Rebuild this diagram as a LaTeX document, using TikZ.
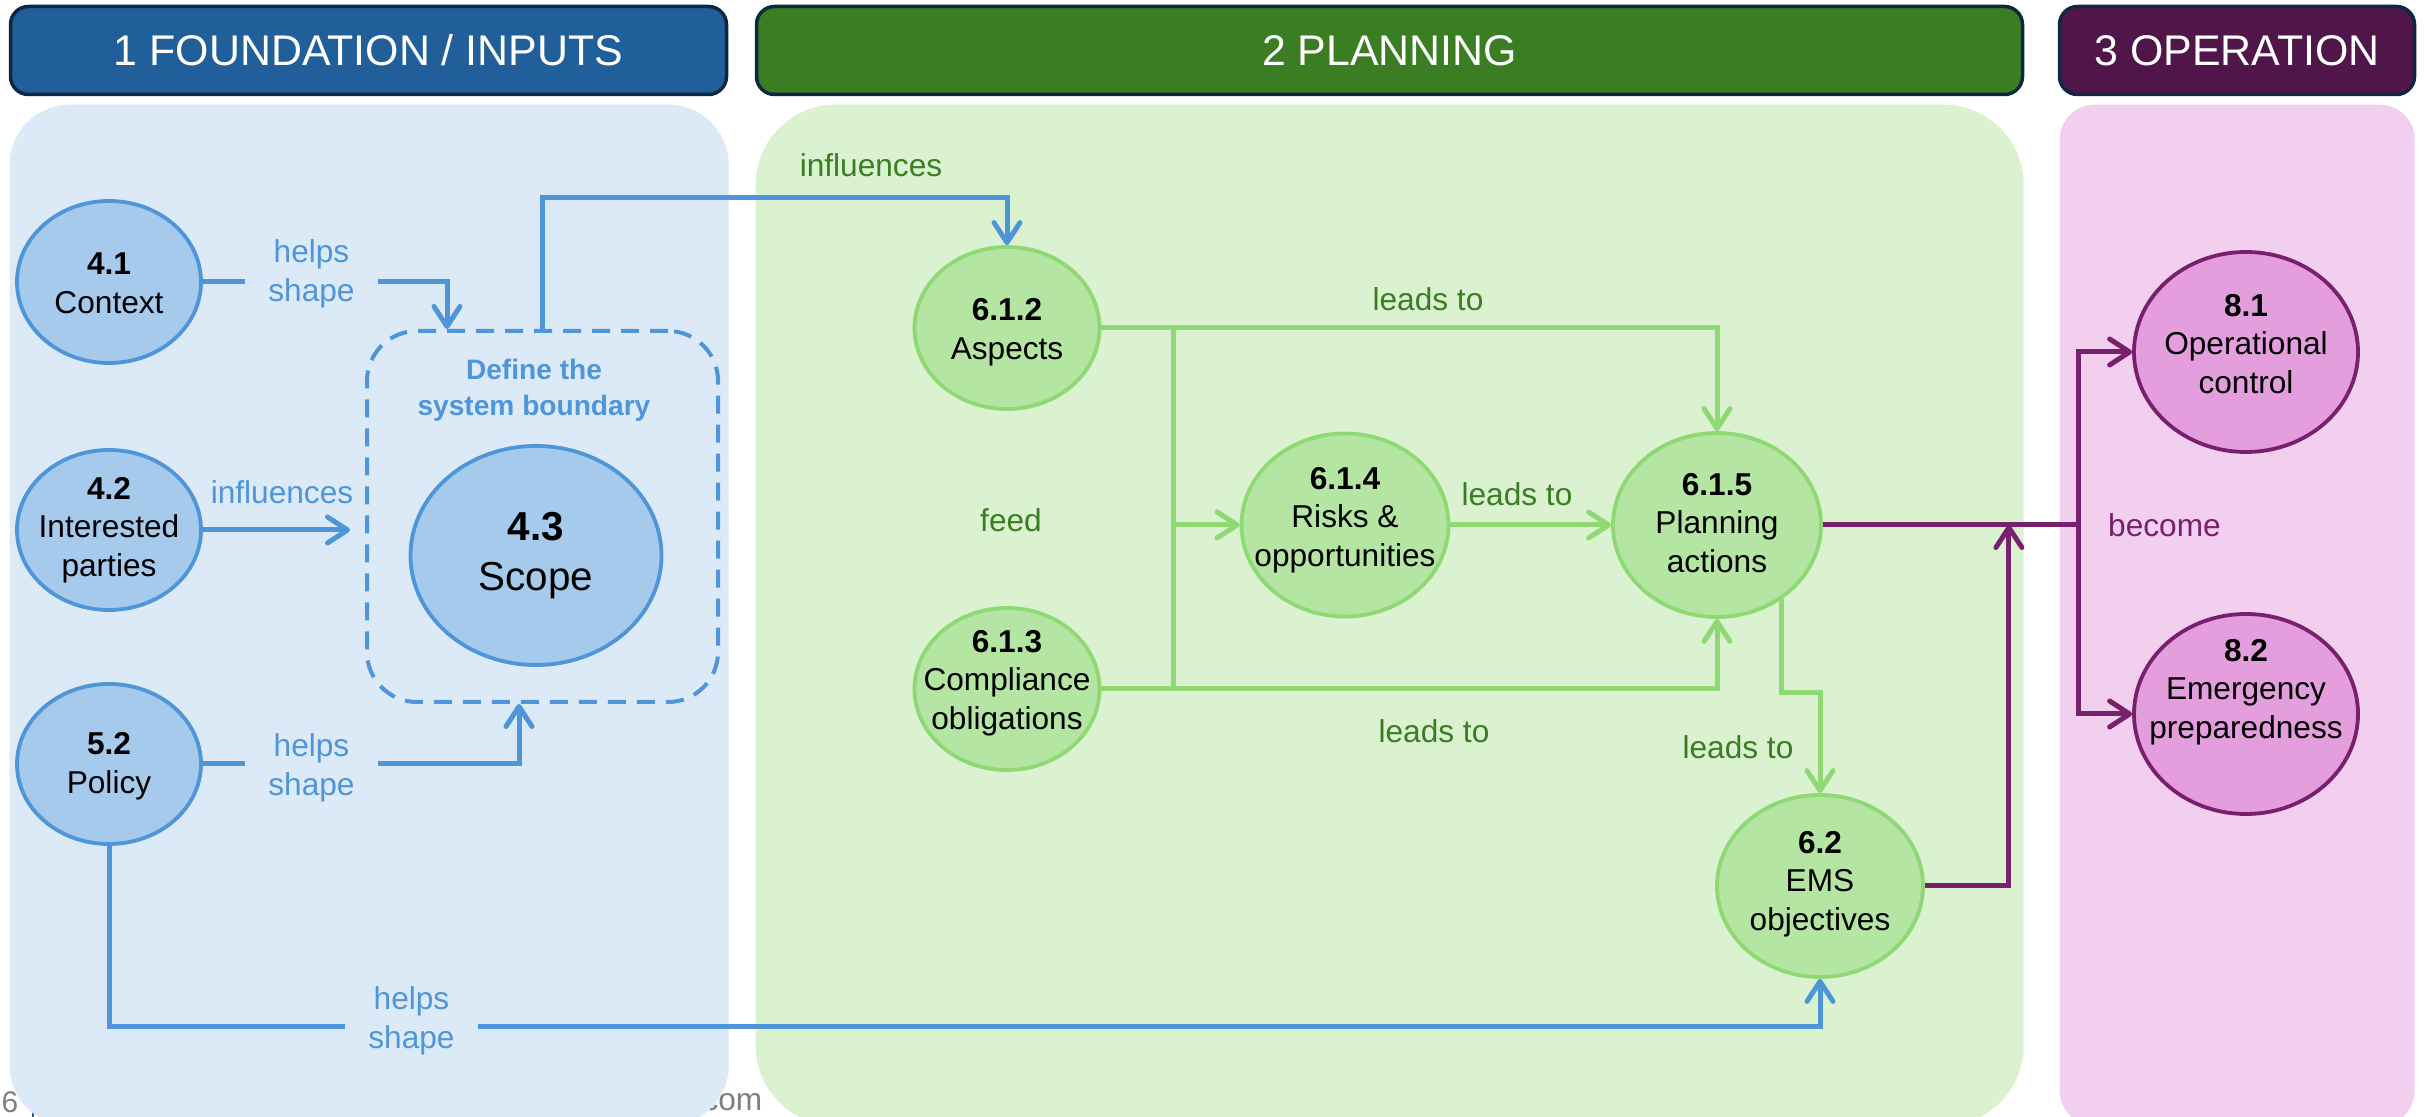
\documentclass[tikz,border=0pt]{standalone}
\usepackage{fontspec}
\setmainfont{Liberation Sans}
\usetikzlibrary{shapes.geometric,arrows.meta,calc}

\definecolor{bpanel}{HTML}{DCEAF7}
\definecolor{bfill}{HTML}{A6CAEC}
\definecolor{bline}{HTML}{4E95D9}
\definecolor{bhead}{HTML}{215F9A}
\definecolor{gpanel}{HTML}{DAF2D0}
\definecolor{gfill}{HTML}{B4E5A2}
\definecolor{gline}{HTML}{8ED973}
\definecolor{gtext}{HTML}{3B7D23}
\definecolor{ghead}{HTML}{3B7D23}
\definecolor{ppanel}{HTML}{F2CEEF}
\definecolor{pfill}{HTML}{E49EDD}
\definecolor{pline}{HTML}{78206E}
\definecolor{phead}{HTML}{501549}
\definecolor{hedge}{HTML}{0E2841}
\definecolor{footgray}{HTML}{7F7F7F}

\tikzset{
  ell/.style={ellipse, inner sep=0pt, line width=0.38mm},
  bnode/.style={ell, draw=bline, fill=bfill},
  gnode/.style={ell, draw=gline, fill=gfill},
  pnode/.style={ell, draw=pline, fill=pfill},
  body/.style={align=center, inner sep=0pt, font=\fontsize{9}{11}\selectfont},
  lbl/.style={align=center, inner sep=1pt, font=\fontsize{9}{11}\selectfont},
  gap/.style={fill=bpanel, minimum width=13.3mm},
  conn/.style={line width=0.5mm},
  tip/.style={-{Straight Barb[length=2.0mm,width=2.6mm,round]}},
  bconn/.style={conn, draw=bline},
  gconn/.style={conn, draw=gline},
  pconn/.style={conn, draw=pline},
  panel/.style={inner sep=0pt, draw=none, anchor=north west},
  header/.style={draw=hedge, line width=0.35mm, rounded corners=1.8mm, inner sep=0pt,
    minimum height=8.8mm, text=white, font=\fontsize{12.2}{14}\selectfont},
}

\begin{document}
\begin{tikzpicture}[x=0.1mm, y=-0.1mm]
\useasboundingbox (0,0) rectangle (2425,1117);
\clip (0,0) rectangle (2425,1117);
\fill[white] (0,0) rectangle (2425,1117);

% footer fragments behind the panels
\node[font=\fontsize{8.5}{10}\selectfont, text=footgray, inner sep=0pt] (f1) at (10,1102) {6};
\coordinate (f2a) at (33,1110);
\coordinate (f2b) at (33,1125);
\draw[bhead, line width=0.25mm] (f2a) -- (f2b);
\node[font=\fontsize{9}{10}\selectfont, text=footgray, inner sep=0pt, anchor=east] (f3) at (763,1102) {.com};

% column panels
\node[panel, fill=bpanel, rounded corners=6mm, minimum width=71.9mm, minimum height=102.1mm] (p1) at (9,104) {};
\node[panel, fill=gpanel, rounded corners=8mm, minimum width=126.8mm, minimum height=102.1mm] (p2) at (755,104) {};
\node[panel, fill=ppanel, rounded corners=3.5mm, minimum width=35.5mm, minimum height=102.1mm] (p3) at (2059,104) {};

% column headers
\node[header, fill=bhead, minimum width=71.6mm] (h1) at (368.5,50.5) {1 FOUNDATION / INPUTS};
\node[header, fill=ghead, minimum width=126.6mm] (h2) at (1389.5,50.5) {2 PLANNING};
\node[header, fill=phead, minimum width=35.5mm] (h3) at (2237,50.5) {3 OPERATION};

% foundation nodes
\node[bnode, minimum width=18.4mm, minimum height=16.2mm] (ctx) at (109,282) {};
\node[bnode, minimum width=18.4mm, minimum height=16.0mm] (ip) at (109,530) {};
\node[bnode, minimum width=18.4mm, minimum height=16.0mm] (pol) at (109,764) {};
\node[draw=bline, line width=0.4mm, dash pattern=on 1.8mm off 1.1mm, rounded corners=5mm,
      minimum width=35.1mm, minimum height=37.1mm, inner sep=0pt] (bnd) at (542.5,516.5) {};
\node[bnode, minimum width=25.1mm, minimum height=21.9mm] (scope) at (536,555.5) {};

% planning nodes
\node[gnode, minimum width=18.5mm, minimum height=16.2mm] (asp) at (1007,328) {};
\node[gnode, minimum width=18.5mm, minimum height=16.2mm] (comp) at (1007,689) {};
\node[gnode, minimum width=20.7mm, minimum height=18.3mm] (risk) at (1345,525) {};
\node[gnode, minimum width=20.8mm, minimum height=18.4mm] (plan) at (1717,525) {};
\node[gnode, minimum width=20.6mm, minimum height=18.2mm] (ems) at (1820,886) {};

% operation nodes
\node[pnode, minimum width=22.4mm, minimum height=20.0mm] (opc) at (2246,352) {};
\node[pnode, minimum width=22.4mm, minimum height=20.0mm] (emg) at (2246,714) {};

% node texts
\node[body] (tctx) at (109,283) {\textbf{4.1}\\Context};
\node[body] (tip2) at (109,530) {\textbf{4.2}\\Interested\\parties};
\node[body] (tpol) at (109,766) {\textbf{5.2}\\Policy};
\node[align=center, inner sep=0pt, font=\fontsize{11.5}{14.2}\selectfont] (tscope) at (536,556) {\textbf{4.3}\\Scope};
\node[align=center, inner sep=0pt, text=bline, font=\fontsize{8}{10.2}\selectfont\bfseries] (tbnd) at (534,390) {Define the\\system boundary};
\node[body] (tasp) at (1007,332) {\textbf{6.1.2}\\Aspects};
\node[body] (tcomp) at (1007,683) {\textbf{6.1.3}\\Compliance\\obligations};
\node[body] (trisk) at (1345,520) {\textbf{6.1.4}\\Risks \&\\opportunities};
\node[body] (tplan) at (1717,523) {\textbf{6.1.5}\\Planning\\actions};
\node[body] (tems) at (1820,884) {\textbf{6.2}\\EMS\\objectives};
\node[body] (topc) at (2246,344) {\textbf{8.1}\\Operational\\control};
\node[body] (temg) at (2246,692) {\textbf{8.2}\\Emergency\\preparedness};

% foundation connectors
\draw[bconn, tip] (ctx.east) -| ($(bnd.north)+(-95.5,0)$);
\draw[bconn, tip] (ip.east) -- ($(bnd.west |- ip.east)+(-15,0)$);
\draw[bconn, tip] (pol.east) -| ($(bnd.south)+(-23.5,0)$);
\draw[bconn, tip] (pol.south) -- ++(0,181) -| (ems.south);
\draw[bconn, tip] (bnd.north) -- ++(0,-131.5) -| (asp.north);

% planning connectors
\coordinate (fbt) at ($(asp.east)+(72,0)$);
\coordinate (fbb) at (fbt |- comp.east);
\draw[gconn] (fbt) -- (fbb);
\draw[gconn, tip] (fbt |- risk.west) -- (risk.west);
\draw[gconn, tip] (asp.east) -| (plan.north);
\draw[gconn, tip] (comp.east) -| (plan.south);
\draw[gconn, tip] (risk.east) -- (plan.west);
\draw[gconn, tip] (plan.-49) -- ++(0,93) -| (ems.north);

% operation connectors
\coordinate (pb) at ($(plan.east)+(256,0)$);
\coordinate (pj) at ($(plan.east)+(186,0)$);
\draw[pconn] (plan.east) -- (pb);
\draw[pconn, tip] (pb) |- (opc.west);
\draw[pconn, tip] (pb) |- (emg.west);
\draw[pconn, tip] (ems.east) -| (pj);

% connector labels
\node[lbl, gap, text=bline] (l1) at (311.5,274) {helps\\shape};
\node[lbl, text=bline] (l2) at (282,492) {influences};
\node[lbl, gap, text=bline] (l3) at (311.5,768) {helps\\shape};
\node[lbl, gap, text=bline] (l4) at (411.5,1021) {helps\\shape};
\node[lbl, text=gtext] (l5) at (871,165) {influences};
\node[lbl, text=gtext] (l6) at (1428,299) {leads to};
\node[lbl, text=gtext] (l7) at (1517,494) {leads to};
\node[lbl, text=gtext] (l8) at (1434,731) {leads to};
\node[lbl, text=gtext] (l9) at (1738,747) {leads to};
\node[lbl, text=gtext] (l10) at (1011,520) {feed};
\node[lbl, text=pline, anchor=west] (l11) at (2104,525) {become};
\end{tikzpicture}
\end{document}
